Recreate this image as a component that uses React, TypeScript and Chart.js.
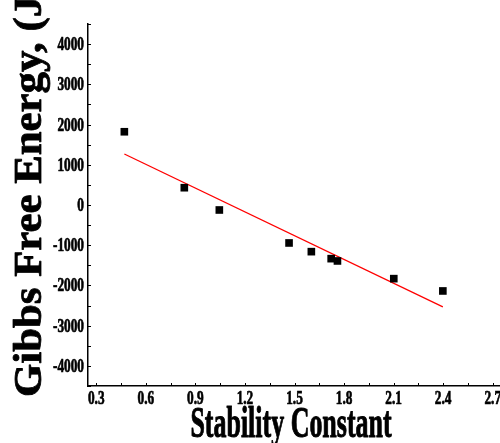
import React, { useEffect, useRef } from "react";
import { Chart, registerables } from "chart.js";

Chart.register(...registerables);

// Measured data (Stability Constant vs Gibbs Free Energy)
const stabilityConstant = [0.47, 0.833, 1.045, 1.467, 1.602, 1.722, 1.76, 2.101, 2.398];
const gibbsEnergy = [1821, 430, -124, -944, -1160, -1334, -1391, -1831, -2137];

// Linear fit line endpoints
const fitX = [0.47, 2.398];
const fitY = [1267, -2534];

// Axis ticks
const xTickValues = [0.3, 0.6, 0.9, 1.2, 1.5, 1.8, 2.1, 2.4, 2.7];
const xTickLabels = ["0.3", "0.6", "0.9", "1.2", "1.5", "1.8", "2.1", "2.4", "2.7"];
const xMinorTicks = [0.45, 0.75, 1.05, 1.35, 1.65, 1.95, 2.25, 2.55];
const yTickValues = [-4000, -3000, -2000, -1000, 0, 1000, 2000, 3000, 4000];
const yTickLabels = ["-4000", "-3000", "-2000", "-1000", "0", "1000", "2000", "3000", "4000"];
const yMinorTicks = [-4500, -3500, -2500, -1500, -500, 500, 1500, 2500, 3500, 4500];

const xTitle = "Stability Constant";
const yTitle = "Gibbs Free Energy, (J/mol)";

const FONT = '"Liberation Serif", "Times New Roman", serif';

const overlayPlugin = {
  id: "overlay",
  afterDraw(chart: any) {
    const ctx = chart.ctx as CanvasRenderingContext2D;
    const xs = chart.scales.x;
    const ys = chart.scales.y;
    const area = chart.chartArea;
    ctx.save();
    ctx.strokeStyle = "#000";
    ctx.fillStyle = "#000";
    ctx.lineWidth = 1;

    // inward tick marks
    ctx.beginPath();
    for (const v of yTickValues.concat(yMinorTicks)) {
      const py = Math.round(ys.getPixelForValue(v)) + 0.5;
      ctx.moveTo(area.left, py);
      ctx.lineTo(area.left + 3, py);
    }
    for (const v of xTickValues.concat(xMinorTicks)) {
      const px = Math.round(xs.getPixelForValue(v)) + 0.5;
      ctx.moveTo(px, area.bottom);
      ctx.lineTo(px, area.bottom - 3);
    }
    ctx.stroke();

    const heavyText = (t: string, lw: number) => {
      ctx.fillText(t, 0, 0);
      ctx.lineWidth = lw;
      ctx.lineJoin = "round";
      ctx.strokeText(t, 0, 0);
    };

    // tick labels (condensed bold serif)
    ctx.font = `bold 19px ${FONT}`;
    ctx.textBaseline = "alphabetic";
    yTickValues.forEach((v, i) => {
      const py = ys.getPixelForValue(v);
      ctx.save();
      ctx.translate(area.left - 4, py + 6);
      ctx.scale(0.7, 1);
      ctx.textAlign = "right";
      heavyText(yTickLabels[i], 0.7);
      ctx.restore();
    });
    xTickValues.forEach((v, i) => {
      const px = xs.getPixelForValue(v);
      ctx.save();
      ctx.translate(px, area.bottom + 17.5);
      ctx.scale(0.7, 1);
      ctx.textAlign = "center";
      heavyText(xTickLabels[i], 0.7);
      ctx.restore();
    });

    // x axis title
    ctx.save();
    ctx.font = `bold 44px ${FONT}`;
    ctx.translate(291, 437);
    ctx.scale(0.59, 1);
    ctx.textAlign = "center";
    heavyText(xTitle, 1);
    ctx.restore();

    // y axis title (rotated)
    ctx.save();
    ctx.font = `bold 40px ${FONT}`;
    ctx.translate(41, 397);
    ctx.rotate(-Math.PI / 2);
    ctx.scale(1.07, 1);
    ctx.textAlign = "left";
    heavyText(yTitle, 0.8);
    ctx.restore();

    ctx.restore();
  },
};

export default function App() {
  const canvasRef = useRef<HTMLCanvasElement | null>(null);

  useEffect(() => {
    const canvas = canvasRef.current;
    if (!canvas) return;
    const chart = new Chart(canvas, {
      type: "scatter",
      data: {
        datasets: [
          {
            label: "fit",
            data: fitX.map((x, i) => ({ x, y: fitY[i] })),
            showLine: true,
            borderColor: "#ff0000",
            borderWidth: 1.3,
            pointRadius: 0,
            fill: false,
            order: 2,
          },
          {
            label: "data",
            data: stabilityConstant.map((x, i) => ({ x, y: gibbsEnergy[i] })),
            showLine: false,
            pointStyle: "rect",
            pointRadius: 5.4,
            backgroundColor: "#000",
            borderColor: "#000",
            borderWidth: 0,
            order: 1,
          },
        ],
      },
      options: {
        animation: false,
        responsive: false,
        devicePixelRatio: 1,
        layout: { padding: { left: 88, right: 19, top: 24, bottom: 57 } },
        plugins: {
          legend: { display: false },
          tooltip: { enabled: false },
          title: { display: false },
        },
        scales: {
          x: {
            type: "linear",
            min: 0.25,
            max: 2.75,
            grid: { display: false, drawTicks: false },
            border: { display: true, color: "#000", width: 1.5 },
            ticks: { display: false },
            afterBuildTicks: (scale: any) => {
              scale.ticks = xTickValues.map((value) => ({ value }));
            },
          },
          y: {
            type: "linear",
            min: -4500,
            max: 4500,
            grid: { display: false, drawTicks: false },
            border: { display: true, color: "#000", width: 1.5 },
            ticks: { display: false },
            afterBuildTicks: (scale: any) => {
              scale.ticks = yTickValues.map((value) => ({ value }));
            },
          },
        },
      },
      plugins: [overlayPlugin],
    });
    return () => chart.destroy();
  }, []);

  return (
    <div
      style={{
        position: "fixed",
        left: 0,
        top: 0,
        width: 500,
        height: 443,
        overflow: "hidden",
        background: "#fff",
      }}
    >
      <canvas ref={canvasRef} width={520} height={443} style={{ display: "block" }} />
    </div>
  );
}
